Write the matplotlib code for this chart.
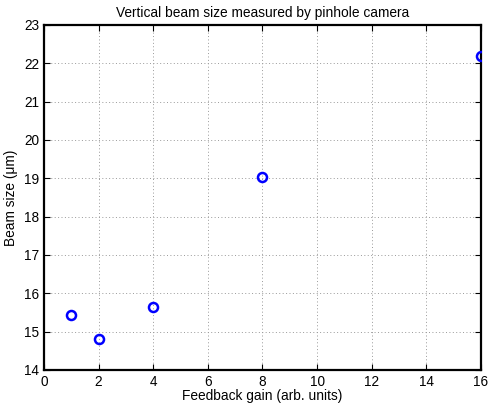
import matplotlib
matplotlib.use("Agg")
import matplotlib.pyplot as plt

gain = [1, 2, 4, 8, 16]
beam_size = [15.44, 14.80, 15.64, 19.03, 22.20]
xticks = [0, 2, 4, 6, 8, 10, 12, 14, 16]
yticks = [14, 15, 16, 17, 18, 19, 20, 21, 22, 23]

plt.rcParams['font.family'] = ['Liberation Sans', 'DejaVu Sans']

fig = plt.figure(figsize=(4.9, 4.03), dpi=100)
ax = fig.add_axes([0.0898, 0.0819, 0.8918, 0.8561])

ax.plot(gain, beam_size, linestyle='none', marker='o', markersize=6.5,
        markerfacecolor='none', markeredgecolor='#0000ff', markeredgewidth=1.8,
        zorder=3)

ax.set_xlim(0, 16)
ax.set_ylim(14, 23)
ax.set_xticks(xticks)
ax.set_yticks(yticks)
ax.tick_params(direction='in', length=4, width=0.8, top=True, right=True,
               labelsize=9.8, pad=3.5, colors='black')
ax.grid(True, linestyle=(0, (1, 2.5)), color='#999999', linewidth=0.7)
for s in ax.spines.values():
    s.set_linewidth(1.6)
    s.set_color('black')

ax.set_title('Vertical beam size measured by pinhole camera', fontsize=9.9, pad=6)
ax.set_xlabel('Feedback gain (arb. units)', fontsize=9.9, labelpad=0)
ax.set_ylabel('Beam size (\u03bcm)', fontsize=9.9, labelpad=4)

fig.savefig('out.png', dpi=100)
